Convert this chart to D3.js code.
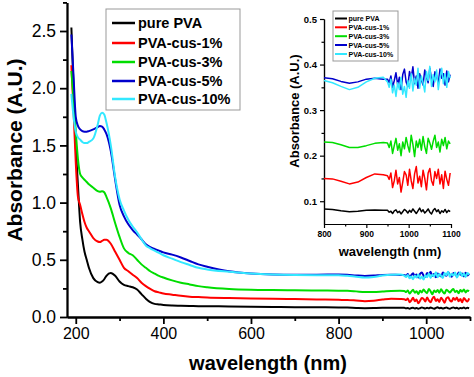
<!DOCTYPE html>
<html>
<head>
<meta charset="utf-8">
<script src="https://cdn.jsdelivr.net/npm/d3@7"></script>
<style>
  body { margin: 0; background: #fff; }
  svg { font-family: "Liberation Sans", Arial, sans-serif; }
  .axis path, .axis line { stroke: #000; stroke-width: 1.6; }
  .axis text { fill: #000; }
  .line { fill: none; }
</style>
</head>
<body>
<div id="chart"></div>
<script>

// series names and colours
var names = ["pure PVA", "PVA-cus-1%", "PVA-cus-3%", "PVA-cus-5%", "PVA-cus-10%"];
var colors = ["#000000", "#ff0000", "#00dd00", "#0000cc", "#33e8ff"];

// wavelengths (nm) of the smooth part of the spectra
var wlSmooth = [190, 195, 200, 205, 210, 215, 220, 225, 230, 240, 250,
  255, 260, 265, 270, 280, 290, 300, 310, 320, 330, 340, 350, 360, 370, 380, 390, 400,
  420, 440, 460, 480, 500, 550, 600, 650, 700, 750,
  800, 820, 840, 860, 880, 900, 920, 940];

// wavelengths of the noisy tail
var wlNoise = [950, 954, 958, 962, 966, 970, 974, 978, 982, 986, 990, 994, 998,
  1002, 1006, 1010, 1014, 1018, 1022, 1026, 1030, 1034, 1038, 1042, 1046, 1050,
  1054, 1058, 1062, 1066, 1070, 1074, 1078, 1082, 1086, 1090, 1094, 1098];

// absorbance values
var purePVA = [2.53, 2.0, 1.5, 1.15, 0.83, 0.68, 0.57, 0.5, 0.43, 0.34, 0.305,
  0.30, 0.31, 0.33, 0.36, 0.385, 0.36, 0.31, 0.28, 0.27, 0.26, 0.24, 0.2, 0.16, 0.13, 0.115, 0.11, 0.105,
  0.1, 0.098, 0.096, 0.095, 0.094, 0.092, 0.09, 0.088, 0.086, 0.085,
  0.083, 0.082, 0.079, 0.077, 0.078, 0.08, 0.081, 0.08];
var cus1 = [2.2, 1.8, 1.35, 1.05, 0.98, 0.9, 0.83, 0.78, 0.75, 0.69, 0.66,
  0.655, 0.665, 0.675, 0.675, 0.64, 0.57, 0.5, 0.43, 0.4, 0.37, 0.34, 0.3, 0.27, 0.245, 0.225, 0.215, 0.205,
  0.195, 0.185, 0.178, 0.174, 0.17, 0.165, 0.162, 0.16, 0.157, 0.154,
  0.15, 0.149, 0.144, 0.138, 0.142, 0.152, 0.16, 0.158];
var cus3 = [2.15, 1.9, 1.62, 1.38, 1.25, 1.22, 1.2, 1.18, 1.16, 1.13, 1.1,
  1.095, 1.1, 1.09, 1.05, 0.95, 0.82, 0.7, 0.6, 0.56, 0.54, 0.5, 0.46, 0.43, 0.4, 0.38, 0.36, 0.345,
  0.32, 0.3, 0.285, 0.27, 0.26, 0.245, 0.238, 0.235, 0.233, 0.231,
  0.23, 0.229, 0.224, 0.218, 0.218, 0.222, 0.227, 0.229];
var cus5 = [2.47, 2.1, 1.75, 1.67, 1.64, 1.625, 1.62, 1.62, 1.625, 1.64, 1.66,
  1.67, 1.665, 1.64, 1.6, 1.45, 1.2, 0.98, 0.88, 0.81, 0.76, 0.72, 0.68, 0.635, 0.61, 0.595, 0.58, 0.565,
  0.545, 0.52, 0.49, 0.46, 0.44, 0.4, 0.38, 0.372, 0.37, 0.37,
  0.371, 0.369, 0.363, 0.359, 0.362, 0.368, 0.37, 0.368];
var cus10 = [1.95, 1.75, 1.62, 1.57, 1.55, 1.53, 1.52, 1.52, 1.53, 1.56, 1.68,
  1.76, 1.785, 1.77, 1.7, 1.5, 1.22, 1.03, 0.93, 0.85, 0.79, 0.74, 0.68, 0.625, 0.6, 0.58, 0.56, 0.54,
  0.51, 0.48, 0.455, 0.43, 0.415, 0.395, 0.38, 0.372, 0.368, 0.366,
  0.365, 0.36, 0.352, 0.345, 0.35, 0.362, 0.37, 0.372];

// noisy tails
var purePVANoise = [0.080, 0.076, 0.078, 0.073, 0.079, 0.081, 0.075, 0.078, 0.072, 0.077, 0.082, 0.079, 0.074,
  0.080, 0.076, 0.083, 0.078, 0.073, 0.079, 0.085, 0.077, 0.081, 0.074, 0.078, 0.083, 0.076,
  0.072, 0.080, 0.084, 0.077, 0.081, 0.073, 0.079, 0.076, 0.082, 0.075, 0.080, 0.077];
var cus1Noise = [0.156, 0.148, 0.162, 0.130, 0.145, 0.168, 0.138, 0.152, 0.120, 0.142, 0.165, 0.158, 0.135,
  0.170, 0.145, 0.128, 0.160, 0.176, 0.140, 0.155, 0.132, 0.168, 0.150, 0.125, 0.162, 0.172,
  0.145, 0.135, 0.165, 0.150, 0.170, 0.138, 0.158, 0.128, 0.166, 0.148, 0.135, 0.162];
var cus3Noise = [0.228, 0.218, 0.232, 0.205, 0.222, 0.238, 0.212, 0.226, 0.200, 0.230, 0.215, 0.240, 0.222,
  0.208, 0.245, 0.225, 0.198, 0.232, 0.218, 0.236, 0.212, 0.242, 0.220, 0.205, 0.238, 0.228,
  0.214, 0.232, 0.245, 0.218, 0.230, 0.208, 0.236, 0.222, 0.240, 0.215, 0.232, 0.226];
var cus5Noise = [0.368, 0.360, 0.375, 0.350, 0.365, 0.382, 0.356, 0.372, 0.345, 0.378, 0.390, 0.362, 0.352,
  0.385, 0.370, 0.395, 0.358, 0.375, 0.348, 0.380, 0.366, 0.355, 0.388, 0.372, 0.360, 0.392,
  0.368, 0.352, 0.384, 0.376, 0.358, 0.390, 0.370, 0.380, 0.355, 0.386, 0.362, 0.378];
var cus10Noise = [0.362, 0.350, 0.368, 0.338, 0.355, 0.330, 0.360, 0.345, 0.372, 0.335, 0.352, 0.328, 0.365,
  0.348, 0.380, 0.342, 0.370, 0.355, 0.392, 0.348, 0.375, 0.360, 0.340, 0.385, 0.365, 0.396,
  0.352, 0.378, 0.362, 0.388, 0.345, 0.372, 0.392, 0.358, 0.380, 0.350, 0.385, 0.370];

// tick values
var mainXTicks = [200, 400, 600, 800, 1000];
var mainXMinor = [300, 500, 700, 900, 1100];
var mainYTicks = [0, 0.5, 1.0, 1.5, 2.0, 2.5];
var mainYMinor = [0.25, 0.75, 1.25, 1.75, 2.25, 2.75];
var insetXTicks = [800, 900, 1000, 1100];
var insetXMinor = [850, 950, 1050];
var insetYTicks = [0.1, 0.2, 0.3, 0.4, 0.5];
var insetYMinor = [0.15, 0.25, 0.35, 0.45];

// build the series
var smoothVals = [purePVA, cus1, cus3, cus5, cus10];
var noiseVals = [purePVANoise, cus1Noise, cus3Noise, cus5Noise, cus10Noise];
var dataset = names.map(function(n, i) {
  var pts = [];
  wlSmooth.forEach(function(w, j) { pts.push({wl: w, a: smoothVals[i][j]}); });
  wlNoise.forEach(function(w, j) { pts.push({wl: w, a: noiseVals[i][j]}); });
  return {name: n, color: colors[i], values: pts};
});

var svg = d3.select("#chart").append("svg").attr("width", 474).attr("height", 377);

function drawAxes(g, x, y, opt) {
  g.append("g").attr("class", "axis")
    .attr("transform", "translate(0," + y.range()[0] + ")")
    .call(d3.axisBottom(x).tickValues(opt.xMinor).tickSize(opt.minor).tickFormat("").tickSizeOuter(0));
  g.append("g").attr("class", "axis")
    .attr("transform", "translate(" + x.range()[0] + ",0)")
    .call(d3.axisLeft(y).tickValues(opt.yMinor).tickSize(opt.minor).tickFormat("").tickSizeOuter(0));
  var xa = g.append("g").attr("class", "axis")
    .attr("transform", "translate(0," + y.range()[0] + ")")
    .call(d3.axisBottom(x).tickValues(opt.xTicks).tickSize(opt.major).tickPadding(opt.xPad)
      .tickFormat(d3.format("d")).tickSizeOuter(0));
  xa.selectAll("text").style("font-size", opt.xFont).style("font-weight", opt.weight);
  var ya = g.append("g").attr("class", "axis")
    .attr("transform", "translate(" + x.range()[0] + ",0)")
    .call(d3.axisLeft(y).tickValues(opt.yTicks).tickSize(opt.major).tickPadding(opt.yPad)
      .tickFormat(d3.format(".1f")).tickSizeOuter(0));
  ya.selectAll("text").style("font-size", opt.yFont).style("font-weight", opt.weight);
  g.selectAll(".axis path, .axis line").style("stroke-width", opt.sw);
}

// main plot
var x = d3.scaleLinear().domain([180, 1100]).range([67, 470]);
var y = d3.scaleLinear().domain([0, 2.75]).range([317, 2.4]);

var main = svg.append("g");
drawAxes(main, x, y, {xTicks: mainXTicks, xMinor: mainXMinor, yTicks: mainYTicks, yMinor: mainYMinor,
  major: 7, minor: 4, xPad: 4, yPad: 4, xFont: "16px", yFont: "17.5px", weight: "normal", sw: 1.8});

var line = d3.line()
  .x(function(d) { return x(d.wl); })
  .y(function(d) { return y(d.a); })
  .curve(d3.curveMonotoneX);

main.selectAll(".line").data(dataset).enter().append("path")
  .attr("class", "line")
  .attr("stroke", function(d) { return d.color; })
  .attr("stroke-width", 2)
  .attr("d", function(d) { return line(d.values); });

main.append("text")
  .attr("x", 268).attr("y", 370)
  .attr("text-anchor", "middle")
  .style("font-size", "20px").style("font-weight", "bold")
  .text("wavelength (nm)");

main.append("text")
  .attr("text-anchor", "middle")
  .attr("transform", "translate(" + [22, 150] + ") rotate(-90)")
  .style("font-size", "21px").style("font-weight", "bold")
  .text("Absorbance (A.U.)");

// legend box with one entry per series
function legend(g, x0, y0, w, h, lx1, lx2, tx, ys, fs, sw) {
  g.append("rect").attr("x", x0).attr("y", y0).attr("width", w).attr("height", h)
    .attr("fill", "#fff").attr("stroke", "#999").attr("stroke-width", 1);
  dataset.forEach(function(d, i) {
    g.append("line").attr("x1", lx1).attr("x2", lx2).attr("y1", ys[i]).attr("y2", ys[i])
      .attr("stroke", d.color).attr("stroke-width", sw);
    g.append("text").attr("x", tx).attr("y", ys[i]).attr("dy", "0.36em")
      .style("font-size", fs).style("font-weight", "bold").text(d.name);
  });
}
legend(main, 106, 9, 134, 101, 112, 135, 138, [23, 43, 62, 81, 99], "14.5px", 2.5);

// inset plot
var xi = d3.scaleLinear().domain([800, 1100]).range([324, 451]);
var yi = d3.scaleLinear().domain([0.05, 0.5]).range([224, 19]);

var inset = svg.append("g");
drawAxes(inset, xi, yi, {xTicks: insetXTicks, xMinor: insetXMinor, yTicks: insetYTicks, yMinor: insetYMinor,
  major: 4, minor: 2.5, xPad: 3, yPad: 3, xFont: "8.5px", yFont: "9.5px", weight: "bold", sw: 1.2});

var lineInset = d3.line()
  .x(function(d) { return xi(d.wl); })
  .y(function(d) { return yi(d.a); });

inset.selectAll(".line").data(dataset).enter().append("path")
  .attr("class", "line")
  .attr("stroke", function(d) { return d.color; })
  .attr("stroke-width", 1.5)
  .attr("stroke-linejoin", "round")
  .attr("d", function(d) {
    return lineInset(d.values.filter(function(p) { return p.wl >= 800; }));
  });

inset.append("text")
  .attr("x", 390).attr("y", 256)
  .attr("text-anchor", "middle")
  .style("font-size", "13px").style("font-weight", "bold")
  .text("wavelength (nm)");

inset.append("text")
  .attr("text-anchor", "middle")
  .attr("transform", "translate(" + [299, 111] + ") rotate(-90)")
  .style("font-size", "13px").style("font-weight", "bold")
  .text("Absorbance (A.U.)");

legend(inset, 333, 11, 65, 50, 335, 347, 348.5, [18.5, 27.3, 36.2, 45, 54], "7px", 2);

</script>
</body>
</html>
